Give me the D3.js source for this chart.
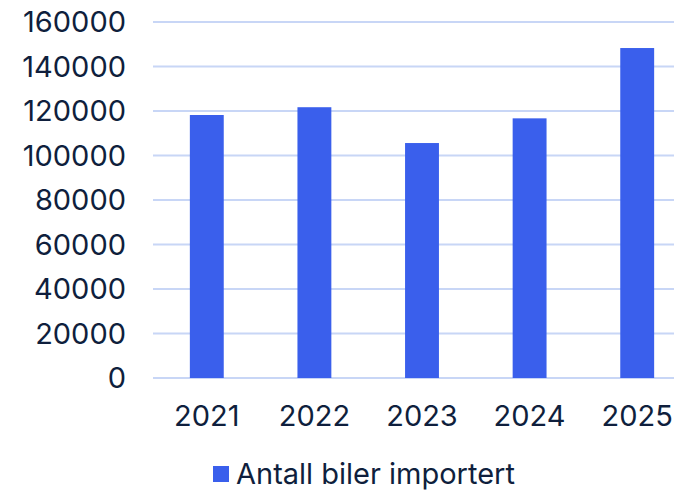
<!DOCTYPE html>
<html>
<head>
<meta charset="utf-8">
<script src="https://cdn.jsdelivr.net/npm/d3@7"></script>
<style>
  body { margin: 0; background: #fff; }
  text { font-family: Inter, "Noto Sans", sans-serif; fill: #0f1f3d; }
</style>
</head>
<body>
<div id="chart"></div>
<script>
var years   = ["2021", "2022", "2023", "2024", "2025"];
var imports = [118200, 121700, 105600, 116700, 148300];
var yTicks  = [0, 20000, 40000, 60000, 80000, 100000, 120000, 140000, 160000];
var seriesName = "Antall biler importert";

var width  = 674,
    height = 491;

var svg = d3.select("#chart")
            .append("svg")
            .attr("width", width)
            .attr("height", height);

var x = d3.scaleBand()
          .domain(years)
          .range([153, 691]);

var y = d3.scaleLinear()
          .domain([0, 160000])
          .range([378, 22]);

// gridlines
svg.selectAll("line.grid")
   .data(yTicks)
   .enter()
   .append("line")
   .attr("class", "grid")
   .attr("x1", 153)
   .attr("x2", width)
   .attr("y1", function (d) { return y(d); })
   .attr("y2", function (d) { return y(d); })
   .attr("stroke", "#c8d6f6")
   .attr("stroke-width", 2);

// y labels
svg.selectAll("text.ylab")
   .data(yTicks)
   .enter()
   .append("text")
   .attr("class", "ylab")
   .attr("x", 126)
   .attr("y", function (d) { return y(d); })
   .attr("dy", "0.36em")
   .attr("text-anchor", "end")
   .attr("font-size", 29)
   .text(function (d) { return d; });

// bars
var barW = x.bandwidth() * 0.315;
svg.selectAll("rect.bar")
   .data(imports)
   .enter()
   .append("rect")
   .attr("class", "bar")
   .attr("x", function (d, i) { return x(years[i]) + x.bandwidth() / 2 - barW / 2; })
   .attr("y", function (d) { return y(d); })
   .attr("width", barW)
   .attr("height", function (d) { return y(0) - y(d); })
   .attr("fill", "#3a5fec");

// x labels
svg.selectAll("text.xlab")
   .data(years)
   .enter()
   .append("text")
   .attr("class", "xlab")
   .attr("x", function (d) { return x(d) + x.bandwidth() / 2; })
   .attr("y", 426)
   .attr("text-anchor", "middle")
   .attr("font-size", 29)
   .text(function (d) { return d; });

// legend
svg.append("rect")
   .attr("x", 213)
   .attr("y", 466)
   .attr("width", 16)
   .attr("height", 16)
   .attr("fill", "#3a5fec");

svg.append("text")
   .attr("x", 236)
   .attr("y", 484)
   .attr("font-size", 29)
   .text(seriesName);
</script>
</body>
</html>
